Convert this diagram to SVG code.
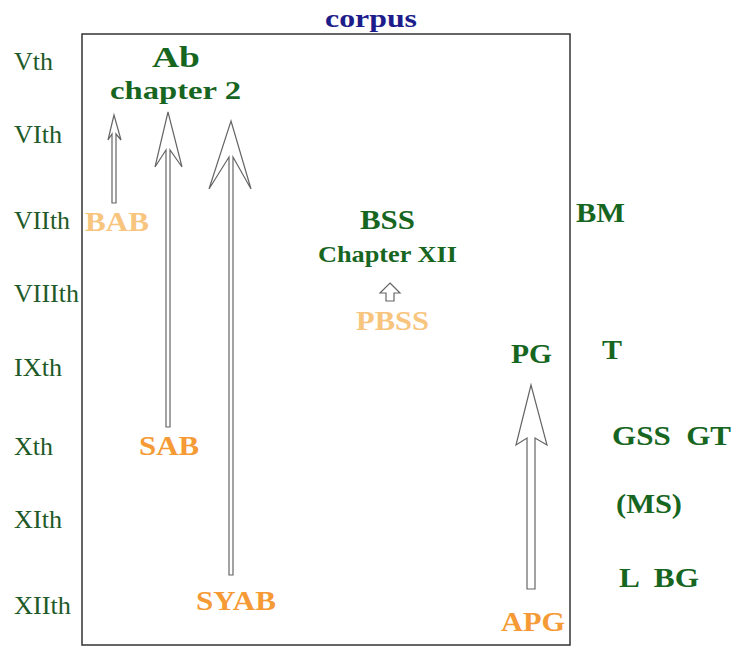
<svg xmlns="http://www.w3.org/2000/svg" width="736" height="647" viewBox="0 0 736 647">
<style>
text{font-family:"Liberation Serif","Times New Roman",Tinos,"DejaVu Serif",serif}
.cent{font-size:25px;fill:#1e5a28}
.g{font-weight:bold;fill:#17661f}
.o{font-weight:bold;fill:#f59a35}
.lo{font-weight:bold;fill:#f8c57f}
.arr{fill:#fff;stroke:#666;stroke-width:1.2;stroke-linejoin:miter}
</style>
<rect width="736" height="647" fill="#fff"/>
<rect x="82" y="34" width="488" height="611" fill="none" stroke="#333" stroke-width="1.5"/>
<text x="325" y="27" textLength="92" lengthAdjust="spacingAndGlyphs" font-weight="bold" font-size="26" fill="#1c1c8a">corpus</text>
<g id="centuries">
<text class="cent" x="14" y="70" textLength="39" lengthAdjust="spacingAndGlyphs">Vth</text>
<text class="cent" x="14" y="143" textLength="48" lengthAdjust="spacingAndGlyphs">VIth</text>
<text class="cent" x="14" y="229" textLength="56" lengthAdjust="spacingAndGlyphs">VIIth</text>
<text class="cent" x="14" y="302" textLength="65" lengthAdjust="spacingAndGlyphs">VIIIth</text>
<text class="cent" x="14" y="376" textLength="48" lengthAdjust="spacingAndGlyphs">IXth</text>
<text class="cent" x="14" y="455" textLength="39" lengthAdjust="spacingAndGlyphs">Xth</text>
<text class="cent" x="14" y="528" textLength="48" lengthAdjust="spacingAndGlyphs">XIth</text>
<text class="cent" x="14" y="614" textLength="57" lengthAdjust="spacingAndGlyphs">XIIth</text>
</g>
<g id="connectors">
<polygon class="arr" points="114,115 121,140 116,134 116,203 112,203 112,134 108,140"/>
<polygon class="arr" points="168,112 182,167 170,150 170,427 166,427 166,150 155,167"/>
<polygon class="arr" points="231,121 251,189 233,157 233,575 229,575 229,157 209,189"/>
<polygon class="arr" points="390,283 400,293 394,293 394,301 386,301 386,293 380,293"/>
<polygon class="arr" points="531,385 547,445 535,438 535,589 527,589 527,438 516,445"/>
</g>
<g id="n-ab"><text class="g" x="152" y="67" font-size="30" textLength="48" lengthAdjust="spacingAndGlyphs">Ab</text>
<text class="g" x="110" y="99" font-size="25" textLength="131" lengthAdjust="spacingAndGlyphs">chapter 2</text></g>
<g id="n-bab"><text class="lo" x="85" y="231" font-size="27" textLength="64" lengthAdjust="spacingAndGlyphs">BAB</text></g>
<g id="n-sab"><text class="o" x="139" y="455" font-size="27" textLength="60" lengthAdjust="spacingAndGlyphs">SAB</text></g>
<g id="n-syab"><text class="o" x="196" y="610" font-size="27" textLength="80" lengthAdjust="spacingAndGlyphs">SYAB</text></g>
<g id="n-bss"><text class="g" x="360" y="229" font-size="27" textLength="55" lengthAdjust="spacingAndGlyphs">BSS</text>
<text class="g" x="318" y="262" font-size="24" textLength="139" lengthAdjust="spacingAndGlyphs">Chapter XII</text></g>
<g id="n-pbss"><text class="lo" x="356" y="330" font-size="27" textLength="73" lengthAdjust="spacingAndGlyphs">PBSS</text></g>
<g id="n-pg"><text class="g" x="511" y="363" font-size="27" textLength="41" lengthAdjust="spacingAndGlyphs">PG</text></g>
<g id="n-apg"><text class="o" x="501" y="631" font-size="27" textLength="64" lengthAdjust="spacingAndGlyphs">APG</text></g>
<g id="n-bm"><text class="g" x="576" y="222" font-size="27" textLength="49" lengthAdjust="spacingAndGlyphs">BM</text></g>
<g id="n-t"><text class="g" x="602" y="359" font-size="27" textLength="20" lengthAdjust="spacingAndGlyphs">T</text></g>
<g id="n-gss"><text class="g" x="612" y="445" font-size="27" textLength="119" lengthAdjust="spacingAndGlyphs" xml:space="preserve">GSS  GT</text></g>
<g id="n-ms"><text class="g" x="616" y="513" font-size="27" textLength="66" lengthAdjust="spacingAndGlyphs">(MS)</text></g>
<g id="n-lbg"><text class="g" x="619" y="587" font-size="27" textLength="80" lengthAdjust="spacingAndGlyphs" xml:space="preserve">L  BG</text></g>
</svg>
